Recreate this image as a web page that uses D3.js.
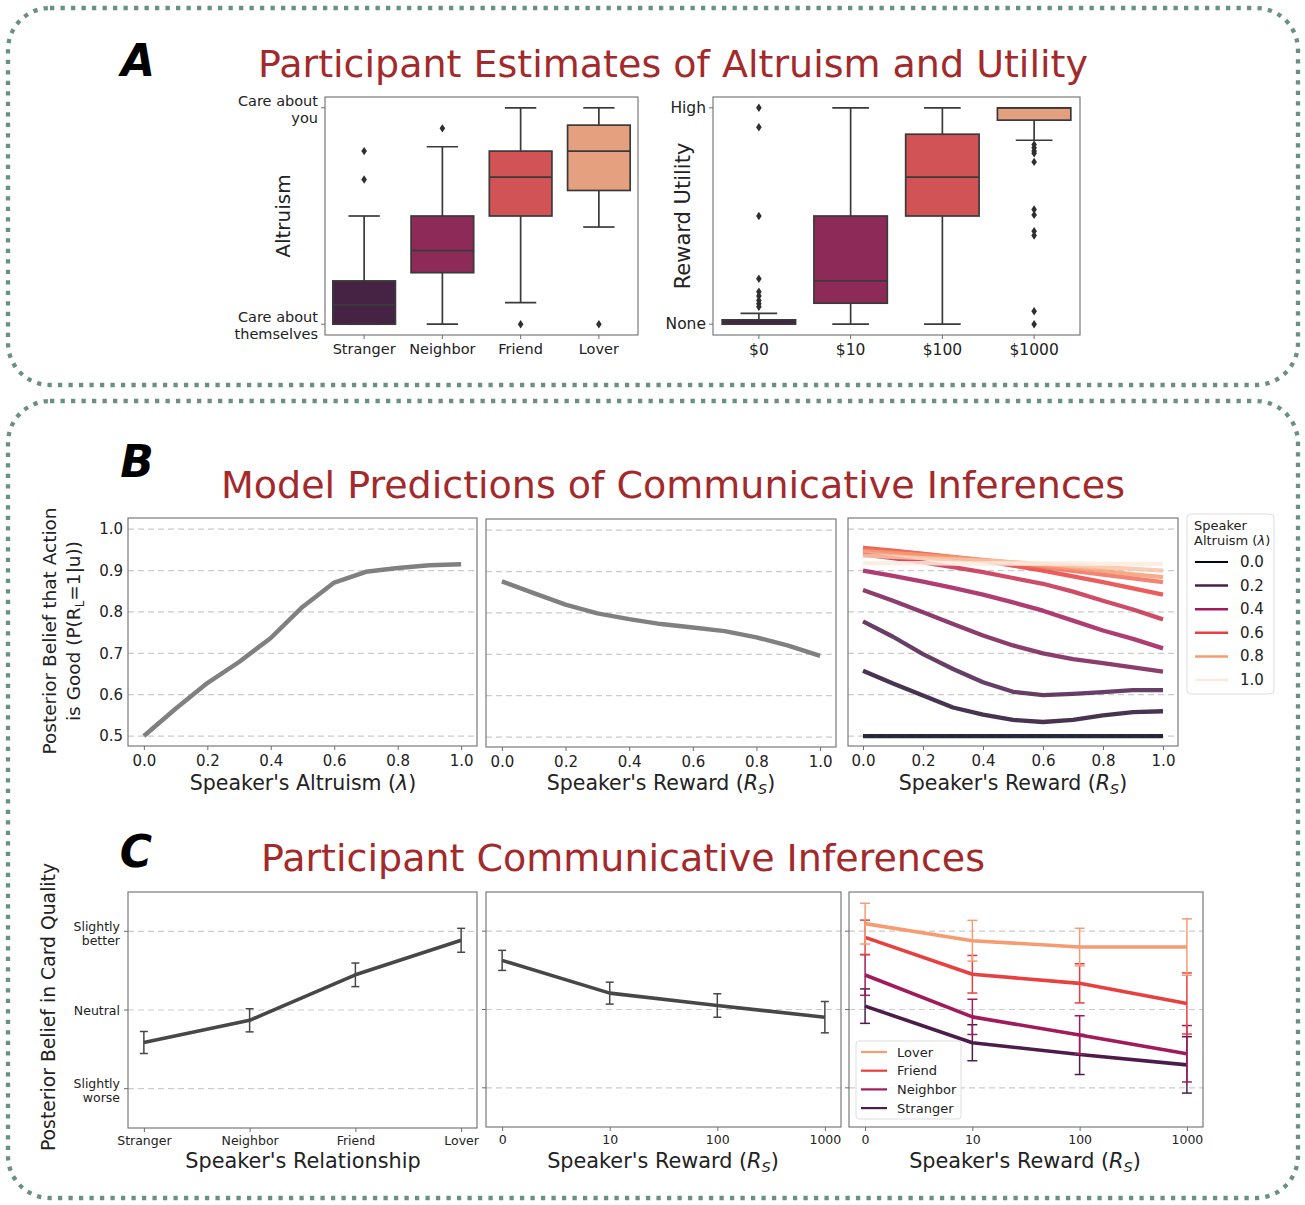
<!DOCTYPE html>
<html><head><meta charset="utf-8">
<script src="https://cdn.jsdelivr.net/npm/d3@7"></script>
<style>body{margin:0;background:#fff}svg{display:block}text{font-family:"DejaVu Sans",sans-serif}</style>
</head><body><svg id="c" width="1305" height="1205"></svg>
<script>
// ---------------- DATA ----------------
const relationships = ["Stranger","Neighbor","Friend","Lover"];
const altruismQ1 = [0, 0.238, 0.5, 0.618];
const altruismMedian = [0.089, 0.34, 0.68, 0.8];
const altruismQ3 = [0.2, 0.5, 0.8, 0.92];
const altruismWhiskLo = [0, 0, 0.1, 0.449];
const altruismWhiskHi = [0.5, 0.82, 1.0, 1.0];
const altruismOutliers = [[0.669, 0.8], [0.905], [0], [0]];
const altruismTickLabels = [["Care about","themselves"],["Care about","you"]];

const rewardLabels = ["$0","$10","$100","$1000"];
const utilityQ1 = [0, 0.097, 0.5, 0.943];
const utilityMedian = [0, 0.2, 0.68, 1.0];
const utilityQ3 = [0.02, 0.5, 0.878, 1.0];
const utilityWhiskLo = [0, 0, 0, 0.85];
const utilityWhiskHi = [0.05, 1, 1, 1];
const utilityOutliers = [[1.0, 0.91, 0.5, 0.21, 0.15, 0.13, 0.11, 0.095, 0.08], [], [],
  [0.83, 0.815, 0.8, 0.79, 0.75, 0.53, 0.505, 0.43, 0.41, 0.06, 0]];
const utilityTickLabels = [["None"],["High"]];

const lambdaGrid = [0,0.1,0.2,0.3,0.4,0.5,0.6,0.7,0.8,0.9,1.0];
const posteriorByAltruism = [0.5,0.566,0.628,0.679,0.737,0.812,0.871,0.897,0.906,0.913,0.915];
const rewardGrid = [0,0.1,0.2,0.3,0.4,0.5,0.6,0.7,0.8,0.9,1.0];
const posteriorByReward = [0.876,0.848,0.820,0.799,0.785,0.773,0.765,0.756,0.741,0.721,0.696];
const altruismLevels = [0,0.1,0.2,0.3,0.4,0.5,0.6,0.7,0.8,0.9,1.0];
const posteriorByRewardAndAltruism = [
  [0.5,0.5,0.5,0.5,0.5,0.5,0.5,0.5,0.5,0.5,0.5],
  [0.658,0.627,0.598,0.569,0.552,0.539,0.534,0.539,0.550,0.558,0.560],
  [0.777,0.740,0.698,0.662,0.630,0.607,0.599,0.602,0.606,0.611,0.611],
  [0.853,0.827,0.799,0.771,0.743,0.719,0.700,0.686,0.676,0.666,0.656],
  [0.900,0.887,0.873,0.858,0.842,0.823,0.803,0.779,0.755,0.735,0.712],
  [0.939,0.930,0.920,0.908,0.896,0.882,0.868,0.849,0.827,0.806,0.782],
  [0.955,0.948,0.940,0.932,0.924,0.912,0.900,0.886,0.872,0.857,0.842],
  [0.952,0.946,0.940,0.933,0.925,0.917,0.908,0.899,0.890,0.881,0.872],
  [0.947,0.942,0.937,0.932,0.926,0.920,0.913,0.906,0.899,0.891,0.884],
  [0.936,0.933,0.930,0.927,0.924,0.920,0.916,0.912,0.908,0.904,0.900],
  [0.918,0.918,0.918,0.917,0.917,0.917,0.917,0.917,0.916,0.916,0.916]
];
const legendAltruism = [0,0.2,0.4,0.6,0.8,1.0];
const bTicks = [0.5,0.6,0.7,0.8,0.9,1.0];
const xTicks01 = [0,0.2,0.4,0.6,0.8,1.0];

const beliefTickValues = [-1,0,1];
const beliefTickLabels = [["Slightly","worse"],["Neutral"],["Slightly","better"]];
const relationshipMeans = [-0.413,-0.131,0.447,0.886];
const relationshipErr = [0.14,0.147,0.15,0.152];
const rewardTickLabels = ["0","10","100","1000"];
const rewardMeans = [0.627,0.209,0.051,-0.098];
const rewardErr = [0.128,0.14,0.15,0.2];
const loverMeans = [1.096,0.878,0.797,0.797];
const loverErr = [0.26,0.26,0.24,0.36];
const friendMeans = [0.921,0.45,0.334,0.077];
const friendErr = [0.22,0.24,0.25,0.39];
const neighborMeans = [0.441,-0.094,-0.325,-0.565];
const neighborErr = [0.26,0.225,0.245,0.36];
const strangerMeans = [0.043,-0.424,-0.574,-0.707];
const strangerErr = [0.22,0.23,0.256,0.36];

// ---------------- STYLE ----------------
const rocket = d3.piecewise(d3.interpolateRgb, ["#03051a","#4c1d4b","#a11a5b","#e83f3f","#f69c73","#faebdd"]);
const relLineColors = ["#4c1d4b","#a11a5b","#e83f3f","#f69c73"];
const boxColors = ["#462345","#8e2a58","#d25355","#e5a07f"];
const spine = "#6e6e6e";
const gridCol = "#cccccc";
const titleCol = "#a3292b";
const svg = d3.select("#c");

function txt(g, x, y, s, o={}) {
  const t = g.append("text").attr("x",x).attr("y",y).text(s)
    .attr("font-size", o.size||14).attr("fill", o.fill||"#222")
    .attr("text-anchor", o.anchor||"start");
  if (o.weight) t.attr("font-weight", o.weight);
  if (o.style) t.attr("font-style", o.style);
  if (o.baseline) t.attr("dominant-baseline", o.baseline);
  return t;
}
function rsLabel(g, x, y, size) {
  const t = txt(g, x, y, "Speaker's Reward (", {size, anchor:"middle"});
  t.append("tspan").attr("font-style","italic").text("R");
  t.append("tspan").attr("font-style","italic").attr("font-size", size*0.7).attr("dy", 4).text("S");
  t.append("tspan").attr("dy", -4).text(")");
  return t;
}

// ---------------- BORDERS ----------------
[[8,8,1290,377],[8,401,1290,797]].forEach(([x,y,w,h]) => {
  svg.append("rect").attr("x",x).attr("y",y).attr("width",w).attr("height",h).attr("rx",42)
    .attr("fill","none").attr("stroke","#6a9082").attr("stroke-width",4.3).attr("stroke-dasharray","4.3 6.2");
});

// letters & titles
txt(svg, 138, 76, "A", {size:44, weight:"bold", style:"italic", anchor:"middle", fill:"#000"});
txt(svg, 137, 477, "B", {size:44, weight:"bold", style:"italic", anchor:"middle", fill:"#000"});
txt(svg, 136, 867, "C", {size:44, weight:"bold", style:"italic", anchor:"middle", fill:"#000"});
txt(svg, 673, 77, "Participant Estimates of Altruism and Utility", {size:38, anchor:"middle", fill:titleCol});
txt(svg, 673, 498, "Model Predictions of Communicative Inferences", {size:38, anchor:"middle", fill:titleCol});
txt(svg, 623, 871, "Participant Communicative Inferences", {size:38, anchor:"middle", fill:titleCol});

// ---------------- PANEL A ----------------
function boxPanel(x0, x1, y0, y1, cats, q1, med, q3, lo, hi, outs, yLabels, tickSize, ylab, ylabX, ylabSize) {
  const g = svg.append("g");
  const y = d3.scaleLinear().domain([-0.05, 1.05]).range([y1, y0]);
  const x = d3.scaleBand().domain(cats).range([x0, x1]);
  const bw = x.bandwidth() * 0.8;
  const lc = "#3a3a3a";
  cats.forEach((c, i) => {
    const cx = x(c) + x.bandwidth() / 2;
    const seg = (xa, ya, xb, yb) => g.append("line").attr("x1",xa).attr("y1",ya).attr("x2",xb).attr("y2",yb)
      .attr("stroke", lc).attr("stroke-width", 1.7);
    seg(cx, y(q1[i]), cx, y(lo[i]));
    seg(cx, y(q3[i]), cx, y(hi[i]));
    seg(cx - bw/4, y(lo[i]), cx + bw/4, y(lo[i]));
    seg(cx - bw/4, y(hi[i]), cx + bw/4, y(hi[i]));
    g.append("rect").attr("x", cx - bw/2).attr("y", y(q3[i])).attr("width", bw)
      .attr("height", Math.max(0, y(q1[i]) - y(q3[i]))).attr("fill", boxColors[i])
      .attr("stroke", lc).attr("stroke-width", 1.7);
    seg(cx - bw/2, y(med[i]), cx + bw/2, y(med[i]));
    outs[i].forEach(v => {
      g.append("path").attr("transform", `translate(${cx},${y(v)})`)
        .attr("d", "M0,-4.2L2.8,0L0,4.2L-2.8,0Z").attr("fill", "#2f2f2f");
    });
  });
  g.append("rect").attr("x", x0).attr("y", y0).attr("width", x1 - x0).attr("height", y1 - y0)
    .attr("fill", "none").attr("stroke", spine).attr("stroke-width", 1.1);
  const ax = g.append("g").attr("transform", `translate(0,${y1})`)
    .call(d3.axisBottom(x).tickSize(4).tickPadding(5));
  ax.select(".domain").remove();
  ax.selectAll("line").attr("stroke", spine);
  ax.selectAll("text").attr("font-size", tickSize).attr("fill", "#222").attr("font-family", "DejaVu Sans");
  [0, 1].forEach((v, k) => {
    g.append("line").attr("x1", x0 - 4).attr("x2", x0).attr("y1", y(v)).attr("y2", y(v)).attr("stroke", spine);
    const lines = yLabels[k];
    lines.forEach((s, j) => {
      const off = lines.length === 1 ? 0 : (j === 0 ? -7 : 10);
      txt(g, x0 - 7, y(v) + off, s, {size: tickSize, anchor: "end", baseline: "central"});
    });
  });
  txt(g, 0, 0, ylab, {size: ylabSize, anchor: "middle"})
    .attr("transform", `translate(${ylabX},${(y0 + y1) / 2}) rotate(-90)`);
}
boxPanel(325, 638, 97, 335, relationships, altruismQ1, altruismMedian, altruismQ3, altruismWhiskLo,
  altruismWhiskHi, altruismOutliers, altruismTickLabels, 14.5, "Altruism", 290, 20);
boxPanel(713, 1080, 97, 335, rewardLabels, utilityQ1, utilityMedian, utilityQ3, utilityWhiskLo,
  utilityWhiskHi, utilityOutliers, utilityTickLabels, 15.5, "Reward Utility", 690, 21);

// ---------------- PANEL B ----------------
function linePanel(x0, x1, y0, y1, showY) {
  const g = svg.append("g");
  const x = d3.scaleLinear().domain([-0.05, 1.05]).range([x0, x1]);
  const y = d3.scaleLinear().domain([0.476, 1.027]).range([y1, y0]);
  bTicks.forEach(v => g.append("line").attr("x1", x0).attr("x2", x1).attr("y1", y(v)).attr("y2", y(v))
    .attr("stroke", gridCol).attr("stroke-width", 1.2).attr("stroke-dasharray", "6 4"));
  g.append("rect").attr("x", x0).attr("y", y0).attr("width", x1 - x0).attr("height", y1 - y0)
    .attr("fill", "none").attr("stroke", spine).attr("stroke-width", 1.1);
  const ax = g.append("g").attr("transform", `translate(0,${y1})`)
    .call(d3.axisBottom(x).tickValues(xTicks01).tickFormat(d3.format(".1f")).tickSize(4).tickPadding(5));
  ax.select(".domain").remove();
  ax.selectAll("line").attr("stroke", spine);
  ax.selectAll("text").attr("font-size", 15).attr("fill", "#222").attr("font-family", "DejaVu Sans");
  if (showY) {
    const ay = g.append("g").attr("transform", `translate(${x0},0)`)
      .call(d3.axisLeft(y).tickValues(bTicks).tickFormat(d3.format(".1f")).tickSize(0).tickPadding(5));
    ay.select(".domain").remove();
    ay.selectAll("text").attr("font-size", 15).attr("fill", "#222").attr("font-family", "DejaVu Sans");
  }
  return {g, x, y};
}
{
  const p = linePanel(128, 477, 518, 746, true);
  p.g.append("path").datum(lambdaGrid.map((l, i) => [l, posteriorByAltruism[i]]))
    .attr("d", d3.line().x(d => p.x(d[0])).y(d => p.y(d[1])))
    .attr("fill", "none").attr("stroke", "#808080").attr("stroke-width", 4.5).attr("stroke-linejoin", "round");
  const t = txt(svg, 303, 790, "Speaker's Altruism (", {size: 20.5, anchor: "middle"});
  t.append("tspan").attr("font-style", "italic").text("λ");
  t.append("tspan").text(")");
  const yl = svg.append("g").attr("transform", "translate(0,631) rotate(-90)");
  txt(yl, 0, 56, "Posterior Belief that Action", {size: 18.5, anchor: "middle"});
  const l2 = txt(yl, 0, 80, "is Good (P(R", {size: 18.5, anchor: "middle"});
  l2.append("tspan").attr("font-size", 12).attr("dy", 4).text("L");
  l2.append("tspan").attr("dy", -4).text("=1|u))");
}
{
  const p = linePanel(486, 836, 519, 747, false);
  p.g.append("path").datum(rewardGrid.map((r, i) => [r, posteriorByReward[i]]))
    .attr("d", d3.line().x(d => p.x(d[0])).y(d => p.y(d[1])))
    .attr("fill", "none").attr("stroke", "#808080").attr("stroke-width", 4.5).attr("stroke-linejoin", "round");
  rsLabel(svg, 661, 790, 20.5);
}
{
  const p = linePanel(848, 1178, 518, 746, false);
  altruismLevels.forEach((lam, k) => {
    p.g.append("path").datum(rewardGrid.map((r, i) => [r, posteriorByRewardAndAltruism[k][i]]))
      .attr("d", d3.line().x(d => p.x(d[0])).y(d => p.y(d[1])))
      .attr("fill", "none").attr("stroke", rocket(lam)).attr("stroke-opacity", 0.85)
      .attr("stroke-width", 4.3).attr("stroke-linejoin", "round");
  });
  rsLabel(svg, 1013, 790, 20.5);
  const lg = svg.append("g");
  lg.append("rect").attr("x", 1187).attr("y", 514).attr("width", 87).attr("height", 180).attr("rx", 4)
    .attr("fill", "#fff").attr("stroke", "#dddddd");
  txt(lg, 1194, 530, "Speaker", {size: 13});
  const tt = txt(lg, 1194, 545, "Altruism (", {size: 13});
  tt.append("tspan").attr("font-style", "italic").text("λ");
  tt.append("tspan").text(")");
  legendAltruism.forEach((lam, k) => {
    const yy = 562 + k * 23.6;
    lg.append("line").attr("x1", 1195).attr("x2", 1228).attr("y1", yy).attr("y2", yy)
      .attr("stroke", rocket(lam)).attr("stroke-width", k === 0 ? 2 : 2.5);
    txt(lg, 1240, yy, d3.format(".1f")(lam), {size: 15, baseline: "central"});
  });
}

// ---------------- PANEL C ----------------
function catPanel(x0, x1, y0, y1, labels, showY) {
  const g = svg.append("g");
  const x = d3.scaleLinear().domain([-0.15, 3.15]).range([x0, x1]);
  const y = d3.scaleLinear().domain([-1.5, 1.5]).range([y1, y0]);
  beliefTickValues.forEach(v => g.append("line").attr("x1", x0).attr("x2", x1).attr("y1", y(v)).attr("y2", y(v))
    .attr("stroke", gridCol).attr("stroke-width", 1.2).attr("stroke-dasharray", "6 4"));
  g.append("rect").attr("x", x0).attr("y", y0).attr("width", x1 - x0).attr("height", y1 - y0)
    .attr("fill", "none").attr("stroke", spine).attr("stroke-width", 1.1);
  const ax = g.append("g").attr("transform", `translate(0,${y1})`)
    .call(d3.axisBottom(x).tickValues([0, 1, 2, 3]).tickFormat(i => labels[i]).tickSize(4).tickPadding(4));
  ax.select(".domain").remove();
  ax.selectAll("line").attr("stroke", spine);
  ax.selectAll("text").attr("font-size", 12.5).attr("fill", "#222").attr("font-family", "DejaVu Sans");
  beliefTickValues.forEach((v, k) => {
    g.append("line").attr("x1", x0 - 4).attr("x2", x0).attr("y1", y(v)).attr("y2", y(v)).attr("stroke", spine);
    if (showY) {
      const lines = beliefTickLabels[k];
      lines.forEach((s, j) => {
        const off = lines.length === 1 ? 0 : (j === 0 ? -5 : 9);
        txt(g, x0 - 8, y(v) + off, s, {size: 12.5, anchor: "end", baseline: "central"});
      });
    }
  });
  return {g, x, y};
}
function series(p, means, errs, color, width, cap, errW) {
  const pts = means.map((m, i) => [i, m]);
  p.g.append("path").datum(pts).attr("d", d3.line().x(d => p.x(d[0])).y(d => p.y(d[1])))
    .attr("fill", "none").attr("stroke", color).attr("stroke-width", width).attr("stroke-linejoin", "round");
  pts.forEach(([i, m]) => {
    const cx = p.x(i), ya = p.y(m - errs[i]), yb = p.y(m + errs[i]);
    const e = p.g.append("g").attr("stroke", color).attr("stroke-width", errW);
    e.append("line").attr("x1", cx).attr("x2", cx).attr("y1", ya).attr("y2", yb);
    e.append("line").attr("x1", cx - cap).attr("x2", cx + cap).attr("y1", ya).attr("y2", ya);
    e.append("line").attr("x1", cx - cap).attr("x2", cx + cap).attr("y1", yb).attr("y2", yb);
  });
}
{
  const p = catPanel(128, 477, 892, 1128, relationships, true);
  series(p, relationshipMeans, relationshipErr, "#474747", 3.6, 4, 1.5);
  txt(svg, 303, 1168, "Speaker's Relationship", {size: 20.8, anchor: "middle"});
  txt(svg, 0, 0, "Posterior Belief in Card Quality", {size: 18.8, anchor: "middle"})
    .attr("transform", "translate(55,1007) rotate(-90)");
}
{
  const p = catPanel(486, 841, 892, 1127, rewardTickLabels, false);
  series(p, rewardMeans, rewardErr, "#474747", 3.6, 4, 1.5);
  rsLabel(svg, 663, 1168, 20.8);
}
{
  const p = catPanel(849, 1203, 892, 1127, rewardTickLabels, false);
  const all = [[strangerMeans, strangerErr], [neighborMeans, neighborErr], [friendMeans, friendErr], [loverMeans, loverErr]];
  all.forEach(([m, e], i) => series(p, m, e, relLineColors[i], 3.6, 5, 1.5));
  rsLabel(svg, 1025, 1168, 20.8);
  const lg = svg.append("g");
  lg.append("rect").attr("x", 856).attr("y", 1041).attr("width", 105).attr("height", 78).attr("rx", 3)
    .attr("fill", "#fff").attr("fill-opacity", 0.85).attr("stroke", "#dddddd");
  [3, 2, 1, 0].forEach((i, k) => {
    const yy = 1052 + k * 18.7;
    lg.append("line").attr("x1", 861).attr("x2", 887).attr("y1", yy).attr("y2", yy)
      .attr("stroke", relLineColors[i]).attr("stroke-width", 2.2);
    txt(lg, 897, yy, relationships[i], {size: 13, baseline: "central"});
  });
}
</script></body></html>
